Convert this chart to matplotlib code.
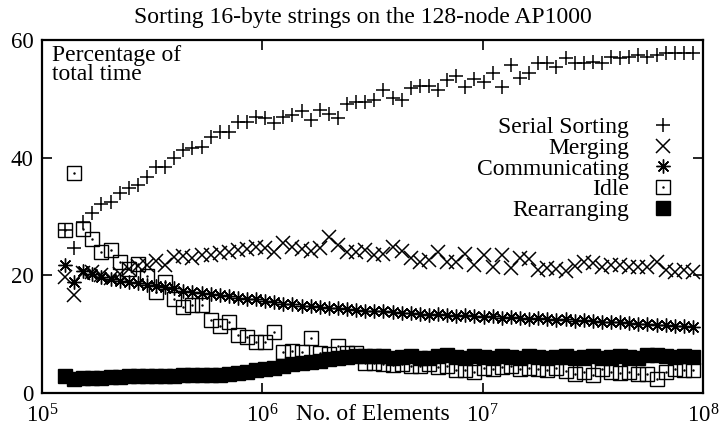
import matplotlib
matplotlib.use('Agg')
import matplotlib.pyplot as plt
import numpy as np
from matplotlib.legend_handler import HandlerTuple

plt.rcParams['font.family'] = ['Liberation Serif', 'DejaVu Serif']
plt.rcParams['mathtext.default'] = 'regular'

# log10 of number of elements
log_n = [5.104, 5.145, 5.187, 5.228, 5.269, 5.311, 5.352, 5.393, 5.435, 5.476,
         5.517, 5.559, 5.600, 5.641, 5.682, 5.724, 5.765, 5.806, 5.848, 5.889,
         5.930, 5.972, 6.013, 6.054, 6.096, 6.137, 6.178, 6.220, 6.261, 6.302,
         6.344, 6.385, 6.426, 6.468, 6.509, 6.550, 6.592, 6.633, 6.674, 6.715,
         6.757, 6.798, 6.839, 6.881, 6.922, 6.963, 7.005, 7.046, 7.087, 7.129,
         7.170, 7.211, 7.253, 7.294, 7.335, 7.377, 7.418, 7.459, 7.500, 7.542,
         7.583, 7.624, 7.666, 7.707, 7.748, 7.790, 7.831, 7.872, 7.914, 7.955]

serial = [27.7, 24.6, 29.1, 30.6, 32.1, 32.5, 34.0, 34.8, 35.4, 36.7,
          38.4, 38.4, 39.9, 41.3, 41.6, 41.8, 43.5, 44.4, 44.4, 46.1,
          46.1, 46.9, 46.7, 45.9, 47.0, 47.2, 48.0, 46.4, 48.2, 47.4,
          46.7, 49.1, 49.4, 49.5, 49.8, 51.5, 50.1, 49.8, 51.8, 52.2,
          52.2, 51.5, 53.2, 53.9, 52.0, 53.4, 52.9, 54.4, 52.0, 55.8,
          53.5, 54.4, 56.1, 56.1, 55.4, 56.9, 56.1, 56.1, 56.3, 56.1,
          57.1, 56.9, 57.1, 57.5, 57.1, 57.5, 57.8, 57.8, 57.8, 57.8]

merging = [19.7, 16.7, 20.4, 20.6, 20.0, 19.6, 20.3, 21.0, 21.6, 21.8,
           22.4, 21.8, 23.1, 23.3, 22.9, 23.5, 23.5, 23.8, 24.0, 24.3,
           24.5, 24.8, 24.6, 24.0, 25.5, 24.8, 24.4, 24.2, 24.7, 26.5,
           25.2, 24.0, 23.9, 24.3, 23.5, 23.6, 24.8, 24.2, 23.0, 22.3,
           22.6, 24.0, 22.2, 22.3, 23.7, 21.8, 23.5, 21.5, 23.4, 21.2,
           22.9, 22.7, 20.9, 21.2, 21.0, 20.7, 21.6, 22.3, 22.1, 21.5,
           21.8, 21.8, 21.4, 21.4, 21.5, 22.3, 20.9, 20.6, 20.9, 20.6]

communicating = [21.8, 18.9, 20.7, 20.3, 19.8, 19.4, 19.1, 18.9, 18.7, 18.4,
                 18.2, 18.0, 17.8, 17.4, 17.1, 17.0, 16.8, 16.6, 16.4, 16.2,
                 16.0, 15.9, 15.6, 15.5, 15.2, 15.1, 14.8, 14.7, 14.6, 14.5,
                 14.4, 14.3, 14.1, 13.9, 14.0, 13.9, 13.7, 13.6, 13.6, 13.4,
                 13.3, 13.4, 13.2, 13.1, 13.2, 13.0, 12.9, 13.0, 12.8, 12.9,
                 12.7, 12.6, 12.7, 12.5, 12.4, 12.5, 12.3, 12.4, 12.2, 12.1,
                 12.1, 12.0, 11.9, 11.8, 11.8, 11.6, 11.5, 11.4, 11.3, 11.2]

idle = [27.7, 37.4, 27.9, 26.1, 24.0, 24.3, 22.3, 21.1, 21.9, 19.9,
        17.1, 18.9, 16.0, 14.6, 15.0, 15.0, 12.4, 11.4, 12.1, 9.8,
        9.5, 8.6, 8.6, 10.4, 7.0, 7.2, 7.0, 9.3, 6.8, 6.6,
        8.0, 6.8, 6.8, 5.1, 5.1, 5.0, 4.8, 4.9, 4.6, 4.5,
        4.9, 4.4, 4.6, 3.9, 3.9, 3.6, 4.3, 4.0, 4.4, 4.6,
        4.1, 4.3, 4.0, 3.9, 4.2, 3.8, 3.2, 3.6, 3.1, 4.0,
        3.6, 3.4, 3.5, 3.3, 3.2, 2.3, 3.6, 4.1, 3.9, 3.9]

rearranging = [2.9, 2.4, 2.5, 2.5, 2.6, 2.7, 2.7, 2.8, 2.8, 2.9,
               2.8, 2.9, 2.9, 3.0, 3.0, 3.0, 3.1, 3.1, 3.3, 3.4,
               3.6, 3.9, 4.1, 4.3, 4.6, 4.9, 5.1, 5.3, 5.5, 5.7,
               5.9, 6.1, 6.2, 6.2, 6.3, 6.2, 6.0, 6.1, 6.3, 6.0,
               6.0, 6.2, 6.4, 6.1, 6.0, 6.2, 6.1, 6.0, 6.3, 6.1,
               6.0, 6.2, 6.1, 6.0, 6.1, 6.2, 6.0, 6.1, 6.2, 6.0,
               6.1, 6.3, 6.1, 6.0, 6.4, 6.5, 6.2, 6.1, 6.2, 6.1]

n = 10 ** np.array(log_n)

fig = plt.figure(figsize=(7.26, 4.46), dpi=100)
ax = fig.add_axes([0.058, 0.119, 0.910, 0.791])

h_ser, = ax.plot(n, serial, ls='none', marker='+', ms=10, mew=1.1, color='k')
h_mer, = ax.plot(n, merging, ls='none', marker='x', ms=9.5, mew=1.1, color='k')
h_com, = ax.plot(n, communicating, ls='none', marker=(8, 2, 0), ms=10, mew=1.0, color='k')
h_idl, = ax.plot(n, idle, ls='none', marker='s', ms=9.5, mew=1.0, mfc='none', mec='k')
h_dot, = ax.plot(n, idle, ls='none', marker='.', ms=1.5, color='k')
h_rea, = ax.plot(n, rearranging, ls='none', marker='s', ms=9.5, color='k')

ax.set_xscale('log')
ax.set_xlim(1e5, 1e8)
ax.set_ylim(0, 60)
ax.set_xticks([1e5, 1e6, 1e7, 1e8])
ax.minorticks_off()
ax.set_yticks([0, 20, 40, 60])
ax.tick_params(direction='in', length=7, width=1.2, top=True, right=True,
               labelsize=16.5)
ax.tick_params(axis='x', pad=8)
ax.tick_params(axis='y', pad=6)
for s in ax.spines.values():
    s.set_linewidth(1.6)

ax.set_xlabel('No. of Elements', fontsize=17)
ax.xaxis.set_label_coords(0.5, -0.03)
ax.set_ylabel('Percentage of\ntotal time', fontsize=17, rotation=0,
              ha='left', va='top', linespacing=0.85)
ax.yaxis.set_label_coords(0.015, 0.985)

fig.suptitle('Sorting 16-byte strings on the 128-node AP1000', fontsize=17,
             x=0.5, y=0.985, va='top')

ax.legend([h_ser, h_mer, h_com, (h_idl, h_dot), h_rea],
          ['Serial Sorting', 'Merging', 'Communicating', 'Idle', 'Rearranging'],
          handler_map={tuple: HandlerTuple(ndivide=1)},
          loc='center right', bbox_to_anchor=(0.958, 0.635), frameon=False,
          markerfirst=False, fontsize=17, handlelength=1.0, handletextpad=0.95,
          labelspacing=-0.03, borderpad=0, borderaxespad=0)

fig.savefig('out.png', dpi=100)
